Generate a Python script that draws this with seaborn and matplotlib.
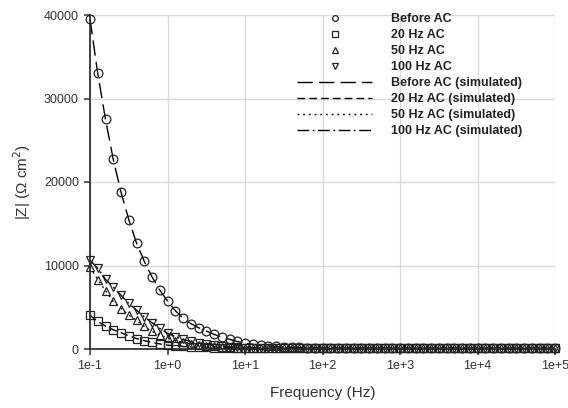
import numpy as np
import pandas as pd
import matplotlib
matplotlib.use("Agg")
import matplotlib.pyplot as plt
import seaborn as sns

# ---- data ----
freq = np.logspace(-1, 5, 61)  # measurement frequencies, 10 per decade

before_ac = [39500, 33000, 27500, 22700, 18800, 15500, 12700, 10500, 8650, 7050,
             5750, 4600, 3700, 3050, 2550, 2150, 1760, 1420, 1160, 900,
             700, 560, 450, 370, 300, 250, 210, 180, 160, 140,
             125, 115, 108, 102, 97, 93, 90, 88, 86, 85,
             84, 83, 82, 82, 81, 81, 80, 80, 80, 80,
             80, 80, 80, 80, 80, 80, 80, 80, 80, 80, 80]
hz20_ac = [4050, 3300, 2750, 2300, 1950, 1580, 1250, 1000, 780, 610,
           460, 370, 300, 250, 210, 180, 160, 140, 125, 115,
           105, 98, 93, 89, 86, 84, 82, 81, 80, 80,
           80, 80, 80, 80, 80, 80, 80, 80, 80, 80,
           80, 80, 80, 80, 80, 80, 80, 80, 80, 80,
           80, 80, 80, 80, 80, 80, 80, 80, 80, 80, 80]
hz50_ac = [9800, 8300, 7000, 5700, 4850, 4050, 3450, 2700, 2100, 1680,
           1300, 1000, 800, 620, 490, 390, 310, 250, 200, 165,
           140, 122, 110, 100, 94, 90, 87, 85, 83, 82,
           81, 80, 80, 80, 80, 80, 80, 80, 80, 80,
           80, 80, 80, 80, 80, 80, 80, 80, 80, 80,
           80, 80, 80, 80, 80, 80, 80, 80, 80, 80, 80]
hz100_ac = [10650, 9650, 8350, 7400, 6450, 5450, 4650, 3850, 3150, 2480,
            1880, 1480, 1150, 900, 700, 540, 420, 330, 260, 210,
            170, 145, 125, 112, 103, 96, 91, 88, 85, 83,
            82, 81, 80, 80, 80, 80, 80, 80, 80, 80,
            80, 80, 80, 80, 80, 80, 80, 80, 80, 80,
            80, 80, 80, 80, 80, 80, 80, 80, 80, 80, 80]

# simulated (fitted) curves follow the measured data closely
before_sim = before_ac
hz20_sim = hz20_ac
hz50_sim = hz50_ac
hz100_sim = hz100_ac

series_labels = ["Before AC", "20 Hz AC", "50 Hz AC", "100 Hz AC"]
sim_labels = ["Before AC (simulated)", "20 Hz AC (simulated)",
              "50 Hz AC (simulated)", "100 Hz AC (simulated)"]
x_ticks = [1e-1, 1e0, 1e1, 1e2, 1e3, 1e4, 1e5]
x_tick_labels = ["1e-1", "1e+0", "1e+1", "1e+2", "1e+3", "1e+4", "1e+5"]
y_ticks = [0, 10000, 20000, 30000, 40000]
y_tick_labels = ["0", "10000", "20000", "30000", "40000"]

# ---- styling ----
sns.set_theme(style="white")
plt.rcParams['font.family'] = ['Liberation Sans', 'DejaVu Sans']

fig = plt.figure(figsize=(5.68, 4.08), dpi=100)
ax = fig.add_axes([90/568, 59/408, 465/568, 334/408])

markers = ["o", "s", "^", "v"]
dashes = [(0, (11, 4.5)), (0, (5.5, 3)), (0, (1.3, 2.8)), (0, (8.5, 2.5, 1.3, 2.5))]
meas = [before_ac, hz20_ac, hz50_ac, hz100_ac]
sims = [before_sim, hz20_sim, hz50_sim, hz100_sim]

marker_handles = []
line_handles = []
for vals, lab, ls in zip(sims, sim_labels, dashes):
    df = pd.DataFrame({"f": freq, "z": vals})
    sns.lineplot(data=df, x="f", y="z", ax=ax, color="black", linewidth=1.0,
                 label=lab, legend=False, sort=True)
    ln = ax.lines[-1]
    ln.set_linestyle(ls)
    line_handles.append(ln)

for vals, lab, mk in zip(meas, series_labels, markers):
    df = pd.DataFrame({"f": freq, "z": vals})
    (ln,) = ax.plot(df["f"], df["z"], linestyle="none", marker=mk, markersize=6.3,
                    markerfacecolor="none", markeredgecolor="#222222",
                    markeredgewidth=0.9, label=lab, clip_on=False, zorder=3)
    marker_handles.append(ln)

ax.set_xscale("log")
ax.set_xlim(0.1, 1e5)
ax.set_ylim(0, 40000)
ax.set_xticks(x_ticks)
ax.set_xticklabels(x_tick_labels)
ax.set_yticks(y_ticks)
ax.set_yticklabels(y_tick_labels)
ax.minorticks_off()

ax.grid(True, color="#d9d9d9", linewidth=1.0)
ax.set_axisbelow(True)
for s in ["top", "right"]:
    ax.spines[s].set_visible(False)
for s in ["left", "bottom"]:
    ax.spines[s].set_color("#333333")
    ax.spines[s].set_linewidth(1.3)
ax.tick_params(axis="both", which="major", direction="out", length=4, width=1.1,
               color="#333333", labelsize=9, labelcolor="#333333",
               bottom=True, left=True, pad=4)

ax.set_xlabel("Frequency (Hz)", fontsize=11, color="#333333", labelpad=10)
ax.set_ylabel("|Z| (\u03a9 cm$^2$)", fontsize=11, color="#333333", labelpad=8)

leg = ax.legend(handles=marker_handles + line_handles,
                labels=series_labels + sim_labels,
                loc="upper left", bbox_to_anchor=(297/568, 395/408),
                bbox_transform=fig.transFigure, frameon=False,
                prop={"weight": "bold", "size": 9}, handlelength=6,
                handletextpad=1.5, labelspacing=0.32, borderpad=0,
                borderaxespad=0, markerscale=0.65)
for t in leg.get_texts():
    t.set_color("#222222")

fig.savefig("out.png", dpi=100)
